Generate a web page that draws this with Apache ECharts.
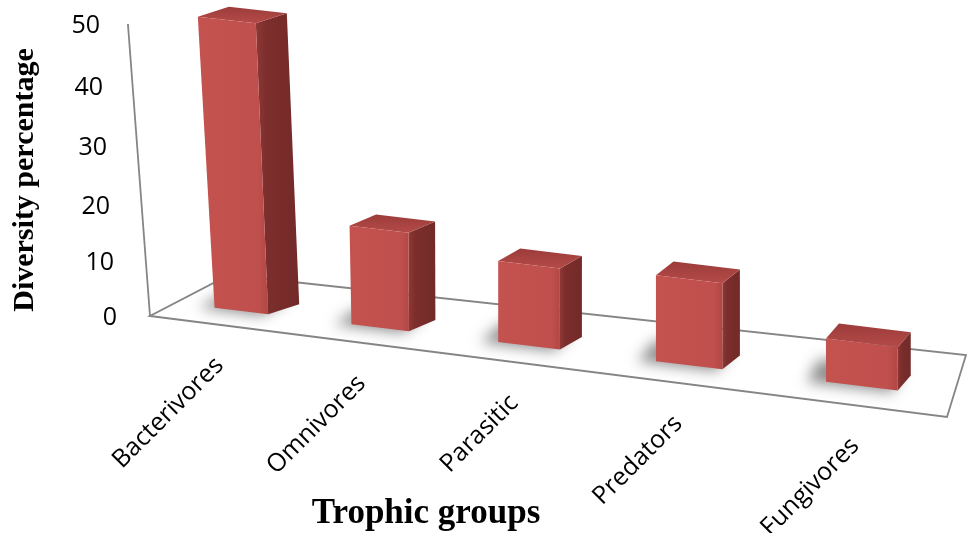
<!DOCTYPE html>
<html>
<head>
<meta charset="utf-8">
<title>Trophic groups</title>
<script src="https://cdn.jsdelivr.net/npm/echarts@6/dist/echarts.min.js"></script>
<style>
  html, body { margin: 0; padding: 0; background: #fff; }
  #chart { width: 969px; height: 533px; }
</style>
</head>
<body>
<div id="chart"></div>
<script>
var categories = ['Bacterivores', 'Omnivores', 'Parasitic', 'Predators', 'Fungivores'];
var diversity = [49, 16, 12.7, 13, 6.3];
var yTicks = [0, 10, 20, 30, 40, 50];

// floor of the 3d box as it sits on screen (front edge, back edge)
var floorFront = [[150, 316], [947, 417]];
var floorBack = [[229, 275], [966, 355]];
var persp = 0.2;        // how fast things grow towards the right
var barDepthAt = 0.32;  // front faces stand this far back on the floor
var barRatio = 0.4;     // gap width 150%

function phi(u) { return u / (1 + persp * (1 - u)); }
function depthScale(u) { return 1 / (1 - u * persp / (1 + persp)); }
function lerp(a, b, t) { return [a[0] + (b[0] - a[0]) * t, a[1] + (b[1] - a[1]) * t]; }
function floorPt(u, d) {
  var p = phi(u);
  return lerp(lerp(floorFront[0], floorFront[1], p), lerp(floorBack[0], floorBack[1], p), d);
}
// verticals lean a little to the left near the axis
function lean(x) { return Math.min(0, (x - 420) * 0.00028); }
function lift(pt, h) { return [pt[0] + lean(pt[0]) * h, pt[1] - h]; }
function barDepth(u) {
  var t = (u - 0.1) / 0.8;
  return [31 - 18 * t, -10 - 5 * t];
}

function renderFloor(params, api) {
  var top = yTicks[yTicks.length - 1];
  var h = (api.coord([0, 0])[1] - api.coord([0, top])[1]) * depthScale(0);
  var fl = floorPt(0, 0), fr = floorPt(1, 0), br = floorPt(1, 1), bl = floorPt(0, 1);
  var axisTop = lift(fl, h);
  return {
    type: 'group',
    children: [
      { type: 'polygon', shape: { points: [fl, fr, br, bl] },
        style: { fill: '#fff', stroke: '#858585', lineWidth: 1.8 } },
      { type: 'line', shape: { x1: fl[0], y1: fl[1], x2: axisTop[0], y2: axisTop[1] },
        style: { stroke: '#858585', lineWidth: 1.8 } }
    ]
  };
}

function renderBar(params, api) {
  var cs = params.coordSys;
  var i = api.value(0);
  var v = api.value(1);
  var base = api.coord([i, 0]);
  var topPt = api.coord([i, v]);
  var u = (base[0] - cs.x) / cs.width;
  var halfU = api.size([1, 0])[0] / cs.width * barRatio / 2;
  var uL = u - halfU, uR = u + halfU;
  var h = (base[1] - topPt[1]) * depthScale(u);

  var bl = floorPt(uL, barDepthAt), br = floorPt(uR, barDepthAt);
  var tl = lift(bl, h), tr = lift(br, h);
  var dv = barDepth(u);
  function back(p) { return [p[0] + dv[0], p[1] + dv[1]]; }

  // soft shadow: shape drawn off screen, only its blurred shadow lands on the floor
  var shadowPts = [
    floorPt(uL - 0.02, barDepthAt - 0.04), floorPt(uR - 0.005, barDepthAt - 0.04),
    floorPt(uR - 0.005, barDepthAt + 0.35), floorPt(uL - 0.02, barDepthAt + 0.35)
  ].map(function (p) { return [p[0] + 3000, p[1]]; });

  var label = floorPt(u, 0);

  return {
    type: 'group',
    children: [
      { type: 'polygon', shape: { points: shadowPts },
        style: { fill: '#000', shadowBlur: 14, shadowOffsetX: -3000,
                 shadowColor: 'rgba(0,0,0,0.45)' } },
      { type: 'polygon', shape: { points: [tr, back(tr), back(br), br] },
        style: { fill: new echarts.graphic.LinearGradient(0, 0, 1, 0, [
          { offset: 0, color: '#8e3835' }, { offset: 0.25, color: '#7c2e2c' },
          { offset: 1, color: '#722a28' }]) } },
      { type: 'polygon', shape: { points: [tl, tr, back(tr), back(tl)] },
        style: { fill: new echarts.graphic.LinearGradient(0, 1, 0, 0, [
          { offset: 0, color: '#b44b48' }, { offset: 1, color: '#9c3c3a' }]) } },
      { type: 'polygon', shape: { points: [bl, br, tr, tl] },
        style: { fill: new echarts.graphic.LinearGradient(0, 0, 1, 0, [
          { offset: 0, color: '#c4524f' }, { offset: 0.85, color: '#c0504d' },
          { offset: 1, color: '#b24744' }]) } },
      { type: 'text', x: label[0] + 2, y: label[1] + 37, rotation: Math.PI / 4,
        style: { text: categories[i], fill: '#000', font: '25px "Open Sans"',
                 align: 'right', verticalAlign: 'middle' } }
    ]
  };
}

var rich = {};
yTicks.forEach(function (t) {
  var f = t / yTicks[yTicks.length - 1];
  rich['t' + t] = {
    fontFamily: 'Open Sans', fontSize: 25, color: '#000',
    padding: [Math.round(12 * Math.sin(Math.PI * f)), Math.round(17 * f), 0, 0]
  };
});

var chart = echarts.init(document.getElementById('chart'));
chart.setOption({
  animation: false,
  grid: { left: 125, right: 242, top: 26, bottom: 215, outerBoundsMode: 'none' },
  xAxis: {
    type: 'category',
    data: categories,
    axisLine: { show: false },
    axisTick: { show: false },
    axisLabel: { show: false },
    name: 'Trophic groups',
    nameLocation: 'middle',
    nameGap: 178,
    nameTextStyle: { fontFamily: 'Liberation Serif', fontWeight: 'bold', fontSize: 35, color: '#000' }
  },
  yAxis: {
    type: 'value',
    min: 0,
    max: 50,
    interval: 10,
    axisLine: { show: false },
    axisTick: { show: false },
    splitLine: { show: false },
    axisLabel: {
      margin: 8,
      formatter: function (v) { return '{t' + v + '|' + v + '}'; },
      rich: rich
    },
    name: 'Diversity percentage',
    nameLocation: 'middle',
    nameRotate: 90,
    nameGap: 85,
    nameTextStyle: { fontFamily: 'Liberation Serif', fontWeight: 'bold', fontSize: 30, color: '#000',
                     padding: [0, 16, 0, 0] }
  },
  series: [
    { type: 'custom', z: 1, clip: false, silent: true, renderItem: renderFloor, data: [[0, 0]] },
    { type: 'custom', z: 2, clip: false, renderItem: renderBar,
      data: categories.map(function (c, i) { return [i, diversity[i]]; }) }
  ]
});
</script>
</body>
</html>
